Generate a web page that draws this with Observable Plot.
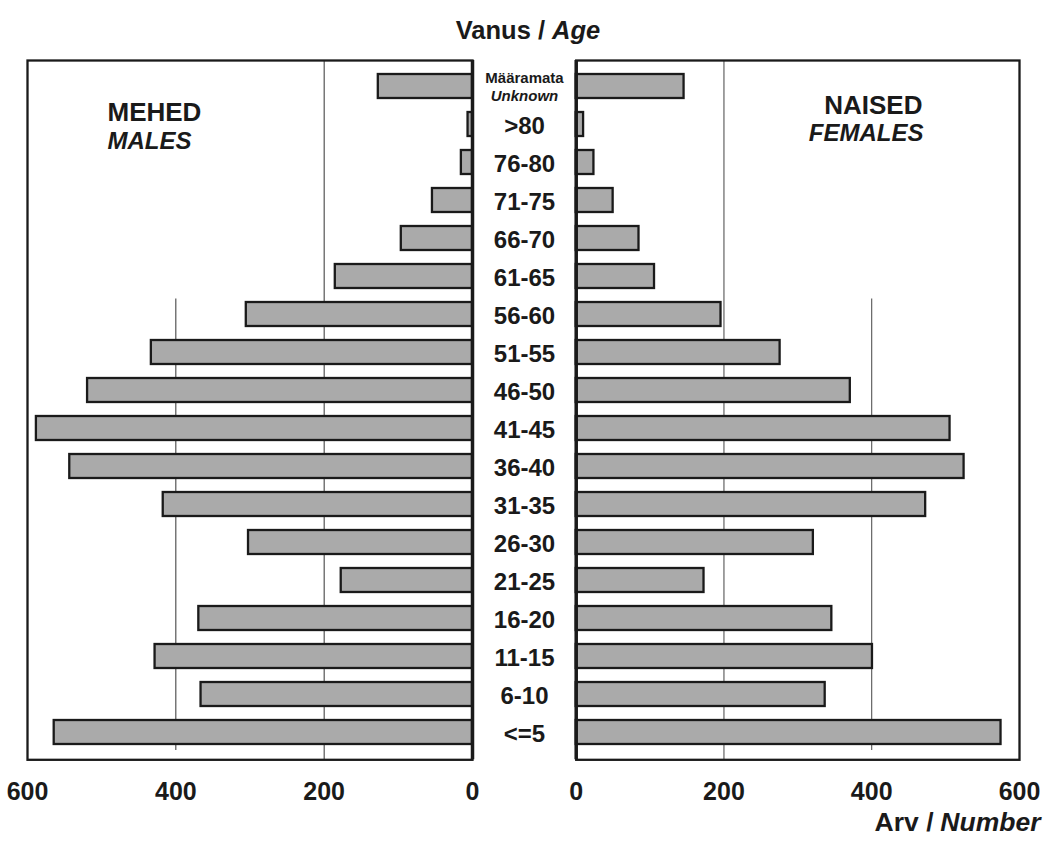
<!DOCTYPE html>
<html><head><meta charset="utf-8">
<script src="https://cdn.jsdelivr.net/npm/d3@7"></script>
<script src="https://cdn.jsdelivr.net/npm/@observablehq/plot@0.6"></script>
<style>
body{margin:0;background:#fff;}
#chart{position:relative;width:1051px;height:841px;background:#fff;}
#chart svg{position:absolute;left:0;top:0;}
</style></head><body><div id="chart"></div>
<script>
// ---- data ----
const ages = ["Määramata", ">80", "76-80", "71-75", "66-70", "61-65", "56-60", "51-55", "46-50", "41-45", "36-40", "31-35", "26-30", "21-25", "16-20", "11-15", "6-10", "<=5"];
const males   = [127, 6, 15, 54, 96, 185, 305, 433, 519, 588, 543, 417, 302, 177, 369, 428, 366, 564];
const females = [146, 10, 24, 50, 85, 106, 196, 276, 371, 506, 525, 473, 321, 173, 346, 401, 337, 575];
const xTicks = [0, 200, 400, 600];
const fullGrid = [200];
const partialGrid = [{value: 400, from: "56-60", to: "<=5"}];
const unknownLabel = ["Määramata", "Unknown"];
const titleParts = ["Vanus /", "Age"];
const xTitleParts = ["Arv /", "Number"];
const maleLabel = ["MEHED", "MALES"];
const femaleLabel = ["NAISED", "FEMALES"];

const rows = ages.map((age, i) => ({age, male: males[i], female: females[i]}));
const namedRows = rows.slice(1);
const unknownRow = rows.slice(0, 1);

const W = 1051, H = 841, FT = 60, FB = 759.3;
const font = "'Liberation Sans', Arial, Helvetica, sans-serif";
const ink = "#1a1a1a";
const yScale = {type: "band", domain: ages, paddingInner: 0.36, paddingOuter: 0.18, axis: null};
const baseStyle = {background: "transparent", overflow: "visible", fontFamily: font, color: ink};

const left = Plot.plot({
  width: W, height: H,
  marginTop: FT, marginBottom: H - FB, marginLeft: 27, marginRight: W - 472,
  style: baseStyle,
  x: {domain: [600, 0]},
  y: yScale,
  marks: [
    Plot.ruleX(fullGrid, {stroke: "#333", strokeWidth: 1}),
    Plot.ruleX(partialGrid, {x: "value", y1: "from", y2: "to", stroke: "#333", strokeWidth: 1, insetTop: -3.5, insetBottom: -6}),
    Plot.barX(rows, {x: "male", y: "age", fill: "#aaaaaa", stroke: ink, strokeWidth: 2.3}),
    Plot.frame({stroke: ink, strokeWidth: 2.3}),
    Plot.ruleX([0], {stroke: ink, strokeWidth: 3.5}),
    Plot.axisX({ticks: xTicks, tickSize: 0, tickPadding: 22, fontSize: 25, fontWeight: "bold", label: null, fill: ink}),
    // age labels
    Plot.text(namedRows, {x: 0, y: "age", text: "age", dx: 52, dy: 1.5, fontSize: 24, fontWeight: "bold", fill: ink}),
    Plot.text(unknownRow, {x: 0, y: "age", text: () => unknownLabel[0], dx: 52, dy: -8.3, fontSize: 15, fontWeight: "bold", fill: ink}),
    Plot.text(unknownRow, {x: 0, y: "age", text: () => unknownLabel[1], dx: 52, dy: 9.2, fontSize: 15, fontWeight: "bold", fontStyle: "italic", fill: ink}),
    // title
    Plot.text([titleParts[0]], {frameAnchor: "top-right", text: d => d, dx: 72.5, dy: -40, textAnchor: "end", fontSize: 25.5, fontWeight: "bold", fill: ink}),
    Plot.text([titleParts[1]], {frameAnchor: "top-right", text: d => d, dx: 79.5, dy: -40, textAnchor: "start", fontSize: 25.5, fontWeight: "bold", fontStyle: "italic", fill: ink}),
    // panel labels
    Plot.text([maleLabel[0]], {frameAnchor: "top-left", text: d => d, dx: 80, dy: 42.5, fontSize: 26, fontWeight: "bold", fill: ink}),
    Plot.text([maleLabel[1]], {frameAnchor: "top-left", text: d => d, dx: 80, dy: 71, fontSize: 24, fontWeight: "bold", fontStyle: "italic", fill: ink})
  ]
});

const right = Plot.plot({
  width: W, height: H,
  marginTop: FT, marginBottom: H - FB, marginLeft: 575.7, marginRight: W - 1019,
  style: baseStyle,
  x: {domain: [0, 600]},
  y: yScale,
  marks: [
    Plot.ruleX(fullGrid, {stroke: "#444", strokeWidth: 1}),
    Plot.ruleX(partialGrid, {x: "value", y1: "from", y2: "to", stroke: "#444", strokeWidth: 1, insetTop: -3.5, insetBottom: -6}),
    Plot.barX(rows, {x: "female", y: "age", fill: "#aaaaaa", stroke: ink, strokeWidth: 2.3}),
    Plot.frame({stroke: ink, strokeWidth: 2.3}),
    Plot.ruleX([0], {stroke: ink, strokeWidth: 3.5}),
    Plot.axisX({ticks: xTicks, tickSize: 0, tickPadding: 22, fontSize: 25, fontWeight: "bold", label: null, fill: ink}),
    Plot.text([femaleLabel[0]], {frameAnchor: "top-right", text: d => d, dx: -97, dy: 35.5, fontSize: 26, fontWeight: "bold", fill: ink}),
    Plot.text([femaleLabel[1]], {frameAnchor: "top-right", text: d => d, dx: -96, dy: 63.5, fontSize: 24, fontWeight: "bold", fontStyle: "italic", fill: ink}),
    // x title
    Plot.text([xTitleParts[0]], {frameAnchor: "bottom-right", text: d => d, dx: -86, dy: 71, textAnchor: "end", fontSize: 26.5, fontWeight: "bold", fill: ink}),
    Plot.text([xTitleParts[1]], {frameAnchor: "bottom-right", text: d => d, dx: 21, dy: 71, textAnchor: "end", fontSize: 26.5, fontWeight: "bold", fontStyle: "italic", fill: ink})
  ]
});

const chart = document.getElementById("chart");
chart.appendChild(left);
chart.appendChild(right);
</script></body></html>
